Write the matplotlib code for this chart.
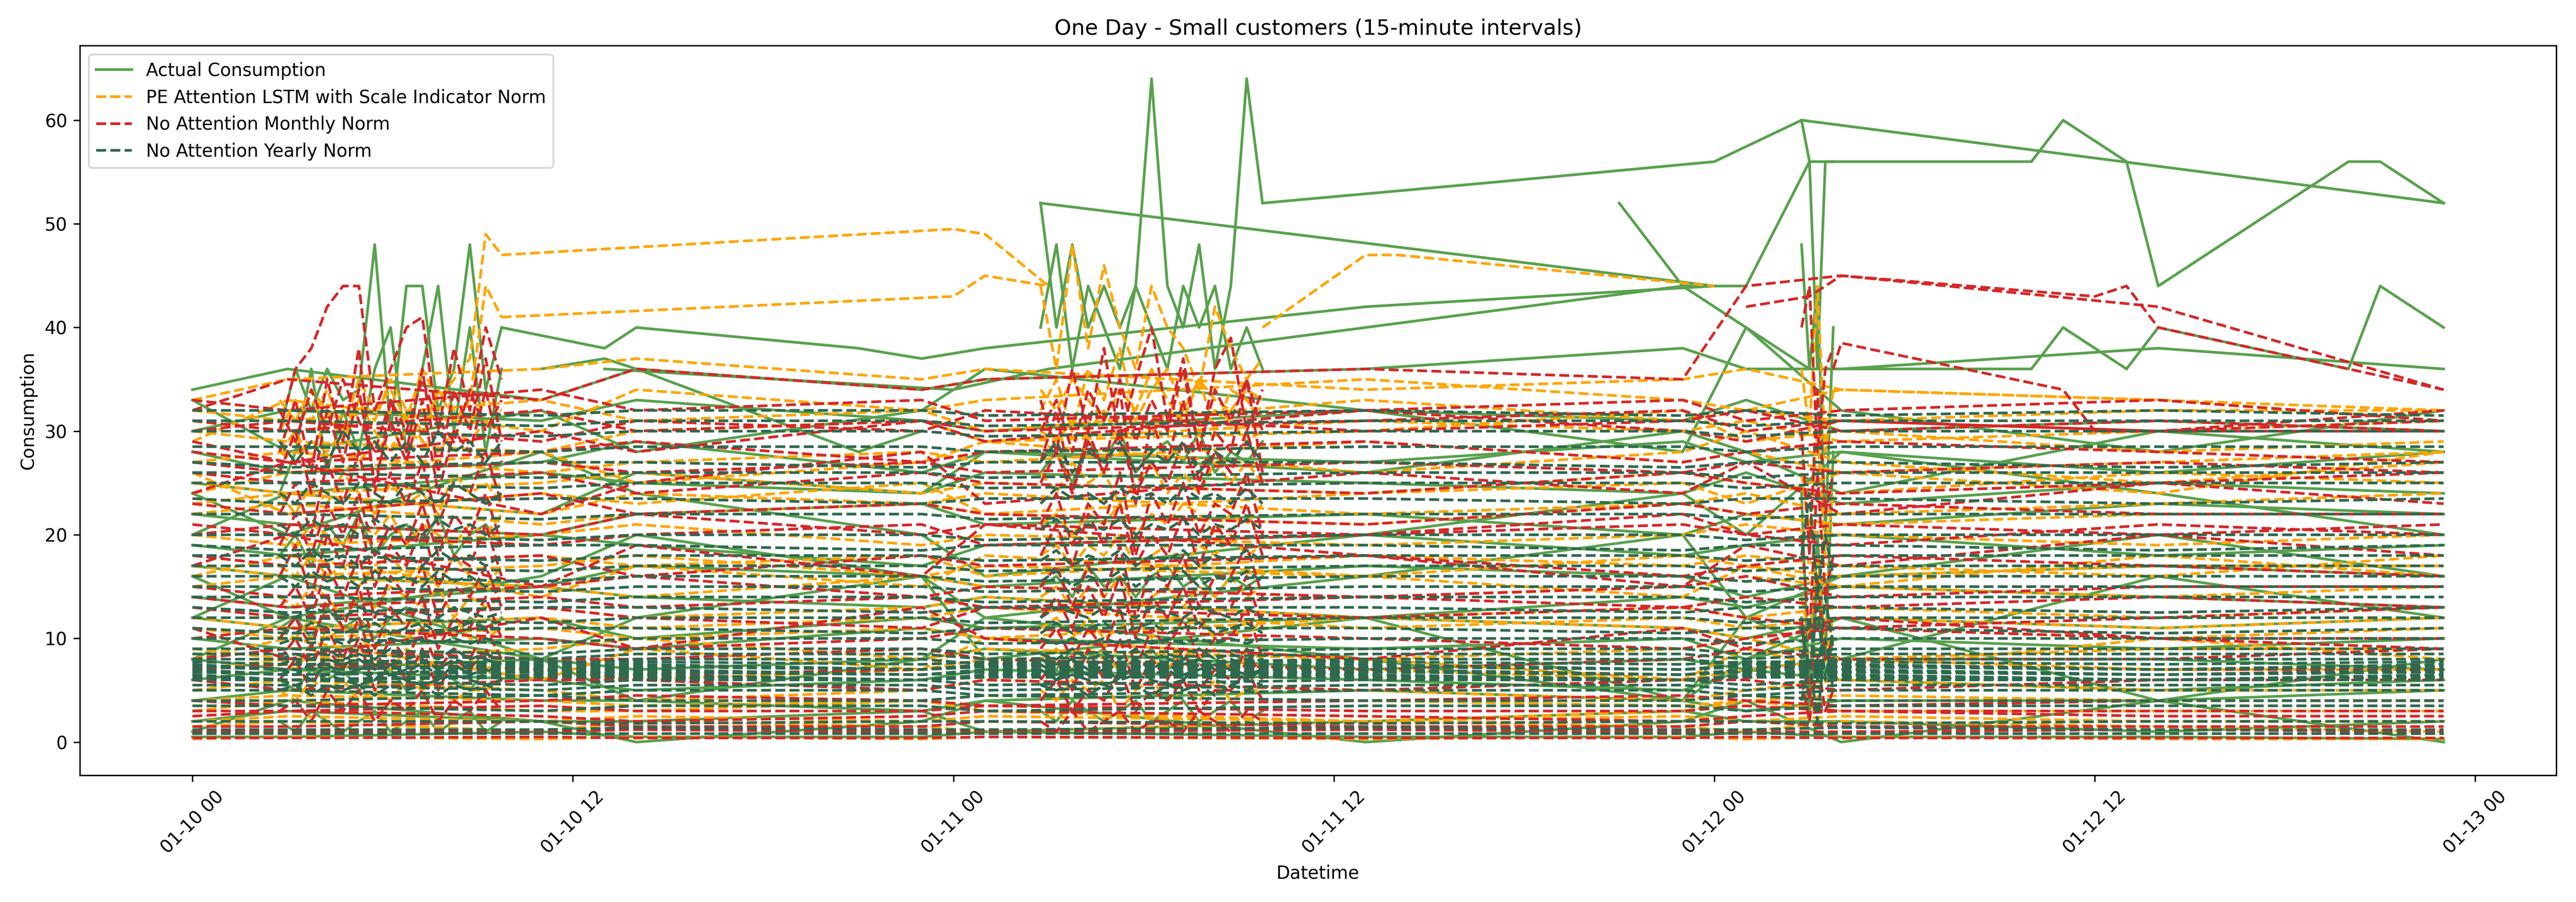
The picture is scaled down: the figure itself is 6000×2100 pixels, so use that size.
import matplotlib
matplotlib.use('Agg')
import matplotlib.pyplot as plt
import matplotlib.dates as mdates
import numpy as np
import pandas as pd

# hours after 01-10 00:00 at which the sparse readings sit
FLAT_H = [0, 3, 11, 14, 23, 25, 37, 47, 49, 52, 62, 71]
# dense windows (morning of each day)
D1_H = [2.75, 3.25, 3.75, 4.25, 4.75, 5.25, 5.75, 6.25, 6.75, 7.25, 7.75, 8.25, 8.75, 9.25, 9.75]
D2_H = [26.75, 27.25, 27.75, 28.25, 28.75, 29.25, 29.75, 30.25, 30.75, 31.25, 31.75, 32.25, 32.75, 33.25, 33.75]
D3_H = [50.75, 51.0, 51.25, 51.5, 51.75]

# ---- Actual Consumption ----
actual_flat = [
    [30, 32, 31, 33, 31, 30, 32, 31, 33, 30, 31, 30],
    [28, 26, 27, 29, 26, 28, 27, 29, 27, 28, 26, 28],
    [25, 24, 26, 25, 24, 26, 25, 24, 26, 23, 25, 24],
    [22, 21, 20, 22, 23, 21, 22, 20, 22, 21, 23, 22],
    [19, 18, 20, 19, 17, 19, 20, 18, 19, 20, 18, 19],
    [17, 16, 15, 17, 16, 15, 17, 16, 14, 16, 17, 16],
    [14, 13, 15, 14, 13, 14, 12, 14, 13, 15, 14, 13],
    [12, 11, 12, 10, 12, 11, 12, 11, 10, 12, 11, 12],
    [10, 9, 10, 9, 11, 10, 9, 10, 8, 10, 9, 10],
    [8, 7, 8, 7, 8, 9, 7, 8, 7, 8, 8, 7],
    [6, 7, 6, 5, 6, 7, 6, 5, 7, 6, 5, 6],
    [4, 5, 4, 4, 3, 4, 5, 4, 3, 4, 4, 5],
    [2, 3, 2, 2, 3, 1, 2, 3, 2, 2, 1, 2],
    [0.5, 0.5, 1, 0.5, 0.5, 1, 0.5, 0.5, 1, 0.5, 0.5, 0.3],
    [34, 36, 33, 36, 34, 35, 36, 38, 36, 36, 38, 36],
    [20, 24, 22, 26, 24, 28, 26, 30, 28, 24, 30, 28],
    [16, 12, 16, 20, 16, 12, 16, 20, 12, 16, 20, 16],
    [8, 12, 8, 4, 8, 12, 8, 4, 8, 12, 4, 8],
    [24, 20, 28, 24, 20, 16, 20, 24, 20, 28, 24, 20],
    [12, 16, 8, 12, 16, 8, 12, 4, 12, 8, 16, 12],
    [1, 4, 2, 0, 2, 4, 0, 2, 4, 0, 4, 0],
    [33, 28, 32, 28, 32, 36, 32, 28, 40, 32, 28, 32],
]
actual_day1 = [
    [30, 36, 32, 36, 33, 34, 48, 30, 44, 44, 32, 36, 48, 34, 40],
    [24, 28, 36, 26, 32, 28, 36, 40, 28, 36, 44, 30, 40, 28, 36],
    [18, 20, 17, 21, 19, 22, 18, 20, 21, 19, 22, 18, 20, 21, 19],
    [11, 12, 10, 13, 11, 12, 10, 12, 13, 11, 12, 10, 12, 11, 12],
    [6, 5, 7, 6, 7, 5, 6, 7, 5, 6, 7, 6, 5, 7, 6],
    [2, 1, 3, 2, 1, 2, 3, 1, 2, 3, 1, 2, 3, 1, 2],
]
actual_day2 = [
    [52, 40, 48, 40, 44, 40, 44, 64, 44, 40, 48, 36, 44, 64, 52],
    [40, 48, 36, 44, 40, 36, 44, 40, 36, 44, 40, 44, 36, 40, 36],
    [26, 28, 25, 29, 27, 30, 26, 28, 29, 27, 30, 26, 28, 27, 29],
    [15, 16, 14, 17, 15, 16, 14, 16, 17, 15, 16, 14, 16, 15, 16],
    [8, 7, 9, 8, 9, 7, 8, 9, 7, 8, 9, 8, 7, 9, 8],
    [3, 2, 4, 3, 2, 3, 4, 2, 3, 4, 2, 3, 4, 2, 3],
]
actual_day3 = [
    [60, 56, 36, 56, 56],
    [48, 36, 44, 20, 40],
    [24, 4, 20, 8, 28],
    [12, 2, 16, 6, 10],
]
actual_extra_h = [
    [9.75, 13, 14, 21, 23, 25, 37, 48],
    [26.75, 48],
    [33.75, 41, 48, 50.75, 71],
    [45, 47, 49, 51, 52, 58, 59, 61, 62, 68, 69, 71],
    [47, 49, 51, 52, 58, 59, 61, 62, 68, 69, 71],
    [13, 24, 27, 37, 47],
    [11, 13, 14, 21, 23],
]
actual_extra_v = [
    [40, 38, 40, 38, 37, 38, 42, 44],
    [52, 44],
    [52, 54, 56, 60, 52],
    [52, 44, 44, 56, 56, 56, 60, 56, 44, 56, 56, 52],
    [44, 40, 36, 36, 36, 40, 36, 40, 36, 44, 40],
    [36, 34, 36, 40, 44],
    [36, 37, 36, 28, 30],
]

# ---- PE Attention LSTM with Scale Indicator Norm ----
pe_flat = [
    [32, 31, 33, 31, 32, 30, 33, 31, 32, 31, 32, 32],
    [31, 30, 32, 30, 31, 29, 31, 30, 31, 29, 30, 31],
    [30, 29, 28, 30, 31, 29, 30, 32, 29, 30, 28, 29],
    [27, 28, 26, 27, 28, 27, 29, 27, 28, 26, 27, 28],
    [25, 24, 25, 26, 24, 25, 24, 26, 25, 24, 26, 25],
    [23, 24, 22, 24, 23, 24, 22, 23, 24, 22, 23, 24],
    [22, 23, 21, 22, 23, 22, 21, 23, 22, 21, 22, 22],
    [20, 19, 20, 21, 19, 20, 19, 20, 21, 20, 19, 20],
    [18, 17, 18, 17, 18, 16, 18, 17, 18, 17, 16, 18],
    [17, 16, 17, 18, 16, 17, 16, 18, 17, 16, 17, 17],
    [15, 16, 15, 14, 16, 15, 14, 15, 16, 15, 14, 15],
    [13, 12, 13, 12, 13, 14, 12, 13, 12, 13, 12, 13],
    [12, 11, 12, 11, 12, 13, 11, 12, 11, 12, 11, 12],
    [11, 10, 11, 10, 11, 10, 12, 11, 10, 11, 10, 11],
    [9, 8, 9, 10, 8, 9, 8, 9, 10, 8, 9, 9],
    [7, 8, 7, 6, 7, 8, 7, 6, 7, 8, 7, 7],
    [5, 6, 5, 4, 5, 6, 5, 4, 5, 6, 5, 5],
    [4, 4.5, 4, 3.5, 4, 4.5, 4, 3.5, 4, 4.5, 4, 4],
    [3, 4, 3, 3, 4, 3, 2, 3, 4, 3, 3, 3],
    [2, 2.5, 2, 2.5, 2, 2.5, 2, 2.5, 2, 2.5, 2, 2],
    [1.5, 2, 1, 2, 1.5, 1, 2, 1.5, 1, 2, 1.5, 1],
    [0.3, 0.5, 0.3, 0.5, 0.3, 0.5, 0.3, 0.5, 0.3, 0.5, 0.3, 0.3],
    [33, 35, 36, 37, 35, 36, 34, 35, 36, 34, 33, 32],
    [29, 33, 30, 34, 32, 33, 35, 33, 32, 34, 33, 31],
    [24, 26, 28, 25, 27, 29, 26, 28, 30, 27, 25, 27],
    [26, 22, 24, 23, 25, 22, 24, 25, 23, 26, 24, 28],
    [16, 18, 14, 17, 15, 18, 16, 14, 17, 15, 18, 16],
    [8, 10, 6, 9, 7, 10, 8, 6, 9, 7, 10, 8],
]
pe_day1 = [
    [30, 33, 31, 34, 30, 35, 32, 34, 31, 36, 33, 35, 37, 49, 47],
    [28, 30, 27, 32, 29, 33, 30, 28, 32, 29, 34, 31, 33, 44, 41],
    [24, 22, 25, 23, 26, 24, 22, 25, 23, 24, 22, 26, 24, 25, 23],
    [17, 16, 18, 16, 17, 15, 17, 18, 16, 17, 15, 18, 16, 15, 17],
    [11, 10, 12, 10, 11, 10, 9, 11, 10, 11, 10, 12, 10, 10, 11],
    [5, 4, 6, 5, 6, 4, 5, 4, 6, 5, 6, 4, 5, 5, 6],
    [28, 27, 29, 28, 30, 27, 29, 28, 30, 29, 28, 30, 29, 31, 30],
    [20, 19, 21, 20, 19, 21, 20, 22, 19, 21, 20, 19, 21, 20, 22],
    [33, 31, 34, 32, 30, 33, 31, 35, 32, 30, 34, 32, 31, 33, 32],
    [14, 13, 15, 14, 12, 14, 13, 15, 14, 13, 15, 12, 14, 13, 14],
    [8, 7, 9, 8, 7, 9, 8, 7, 9, 8, 7, 9, 8, 7, 8],
]
pe_day2 = [
    [44, 36, 48, 38, 46, 40, 36, 44, 40, 38, 34, 42, 38, 35, 37],
    [32, 35, 30, 36, 33, 38, 31, 34, 36, 32, 35, 30, 34, 33, 31],
    [26, 24, 27, 25, 26, 23, 25, 27, 24, 26, 24, 27, 25, 27, 25],
    [18, 19, 17, 19, 18, 20, 17, 18, 19, 17, 19, 18, 20, 18, 19],
    [11, 12, 10, 12, 10, 11, 12, 10, 12, 11, 12, 10, 11, 10, 12],
    [5, 4, 6, 5, 6, 3, 5, 6, 4, 5, 4, 6, 4, 5, 5],
    [30, 29, 31, 30, 32, 29, 31, 30, 32, 31, 30, 32, 31, 29, 30],
    [21, 22, 20, 22, 21, 23, 20, 22, 21, 23, 22, 20, 22, 21, 23],
    [34, 32, 35, 33, 31, 34, 32, 36, 33, 31, 35, 33, 32, 34, 33],
    [14, 15, 13, 15, 14, 16, 13, 14, 15, 13, 15, 14, 16, 14, 15],
    [8, 9, 7, 9, 8, 7, 9, 8, 7, 9, 8, 9, 7, 8, 9],
]
pe_day3 = [
    [36, 30, 44, 28, 34],
    [26, 20, 30, 18, 24],
    [14, 10, 18, 8, 12],
]
pe_extra_h = [
    [9.75, 24, 25, 27],
    [9.75, 24, 25, 27],
    [33.75, 37, 38, 48],
]
pe_extra_v = [
    [47, 49.5, 49, 44],
    [41, 43, 45, 44],
    [40, 47, 47, 44],
]

# ---- No Attention Monthly Norm ----
monthly_flat = [
    [33, 32, 34, 32, 33, 31, 32, 33, 31, 32, 33, 31],
    [31, 30, 32, 30, 31, 30, 31, 32, 30, 31, 30, 31],
    [30, 31, 29, 31, 30, 32, 30, 31, 32, 30, 31, 30],
    [28, 27, 28, 29, 27, 28, 29, 27, 28, 29, 28, 27],
    [27, 26, 27, 26, 27, 26, 27, 26, 27, 26, 27, 26],
    [26, 25, 26, 24, 26, 25, 24, 26, 25, 24, 25, 26],
    [23, 22, 24, 22, 23, 22, 21, 23, 22, 23, 22, 22],
    [21, 20, 19, 20, 21, 19, 20, 21, 20, 19, 21, 20],
    [20, 21, 20, 22, 20, 21, 20, 22, 20, 21, 20, 21],
    [18, 17, 18, 16, 18, 17, 18, 16, 17, 18, 17, 16],
    [15, 14, 15, 16, 14, 15, 14, 15, 16, 14, 15, 15],
    [14, 13, 14, 13, 14, 13, 14, 13, 14, 13, 14, 13],
    [13, 12, 13, 12, 11, 13, 12, 13, 12, 11, 12, 13],
    [10, 11, 10, 9, 10, 11, 10, 9, 10, 11, 10, 10],
    [8, 9, 8, 8, 9, 8, 7, 8, 9, 8, 8, 9],
    [7, 7.5, 7, 6.5, 7, 7.5, 7, 6.5, 7, 7.5, 7, 7],
    [6, 5, 6, 6, 5, 6, 5, 6, 6, 5, 6, 6],
    [4, 3.5, 4, 4.5, 4, 3.5, 4, 4.5, 4, 3.5, 4, 4],
    [3, 3, 3.5, 3, 3, 3.5, 3, 3, 3.5, 3, 3, 3],
    [2.5, 3, 2.5, 2, 2.5, 3, 2.5, 2, 2.5, 3, 2.5, 2.5],
    [1.5, 1.5, 2, 1.5, 1.5, 2, 1.5, 1.5, 2, 1.5, 1.5, 1.5],
    [1, 1, 1, 1.2, 1, 1, 1.2, 1, 1, 1, 1.2, 1],
    [0.4, 0.4, 0.5, 0.4, 0.4, 0.5, 0.4, 0.4, 0.5, 0.4, 0.4, 0.4],
    [32, 35, 33, 36, 34, 35, 36, 35, 44, 45, 42, 34],
    [29, 27, 30, 28, 31, 29, 32, 30, 29, 31, 30, 32],
    [24, 27, 22, 25, 28, 23, 26, 24, 27, 22, 25, 23],
    [17, 20, 15, 19, 16, 21, 18, 15, 19, 17, 20, 18],
    [11, 8, 12, 9, 13, 10, 8, 11, 9, 12, 10, 9],
]
monthly_day1 = [
    [30, 36, 38, 42, 44, 44, 32, 36, 40, 41, 30, 38, 32, 40, 35],
    [28, 33, 26, 35, 29, 38, 24, 33, 28, 36, 26, 34, 30, 37, 29],
    [22, 25, 20, 27, 23, 28, 21, 26, 23, 27, 21, 25, 24, 28, 23],
    [16, 19, 14, 20, 17, 22, 15, 19, 17, 21, 15, 18, 17, 21, 16],
    [10, 12, 9, 14, 11, 15, 9, 13, 11, 14, 9, 12, 11, 14, 10],
    [6, 8, 5, 9, 7, 10, 5, 8, 6, 9, 5, 8, 7, 9, 6],
    [3, 4, 2, 5, 3, 5, 2, 4, 3, 5, 2, 4, 3, 5, 3],
    [26, 30, 24, 32, 27, 34, 25, 31, 27, 33, 24, 30, 28, 34, 27],
    [13, 15, 12, 17, 14, 18, 12, 16, 14, 17, 12, 15, 14, 17, 13],
    [32, 29, 34, 30, 35, 31, 28, 33, 30, 35, 31, 29, 34, 30, 33],
    [19, 22, 18, 23, 20, 24, 18, 21, 19, 23, 18, 22, 20, 24, 19],
    [8, 10, 7, 11, 8, 12, 7, 10, 8, 11, 7, 9, 8, 11, 8],
]
monthly_day2 = [
    [33, 28, 36, 30, 38, 29, 35, 40, 31, 37, 28, 36, 39, 30, 34],
    [27, 32, 24, 30, 26, 34, 23, 31, 27, 33, 25, 30, 28, 35, 26],
    [21, 24, 19, 23, 21, 26, 18, 24, 21, 25, 20, 23, 22, 26, 20],
    [15, 17, 13, 17, 14, 19, 12, 17, 15, 18, 13, 16, 16, 19, 14],
    [9, 11, 8, 11, 9, 13, 7, 11, 9, 12, 8, 10, 10, 13, 8],
    [4, 6, 3, 5, 4, 7, 3, 5, 4, 6, 3, 5, 5, 7, 4],
    [2, 1, 3, 1, 2, 3, 1, 2, 2, 1, 3, 2, 1, 3, 2],
    [30, 33, 28, 34, 31, 35, 29, 33, 30, 36, 28, 34, 31, 35, 30],
    [12, 14, 11, 15, 12, 16, 10, 14, 12, 15, 11, 13, 13, 16, 11],
    [25, 28, 24, 29, 26, 30, 24, 27, 25, 29, 24, 28, 26, 30, 25],
    [18, 21, 17, 22, 19, 23, 17, 20, 18, 22, 17, 21, 19, 23, 18],
    [6, 8, 5, 9, 6, 10, 5, 8, 6, 9, 5, 7, 6, 9, 6],
]
monthly_day3 = [
    [40, 44, 28, 36, 38],
    [30, 18, 34, 22, 26],
    [20, 10, 26, 14, 18],
    [12, 4, 16, 8, 10],
    [6, 2, 8, 3, 5],
]
monthly_extra_h = [
    [49, 51, 52, 60, 61, 62, 71],
    [51.75, 52, 59, 60, 71],
]
monthly_extra_v = [
    [42, 43, 45, 43, 44, 40, 34],
    [36, 38.5, 34, 30, 30],
]

# ---- No Attention Yearly Norm ----
yearly_flat = [
    [32, 32, 31.5, 32, 32, 31.5, 32, 31.5, 32, 31.5, 32, 31.5],
    [31, 31, 30.5, 31, 31, 30.5, 31, 31, 30.5, 31, 31, 31],
    [30, 30, 29.5, 30, 30, 29.5, 30, 30, 29.5, 30, 30, 30],
    [28.5, 28.5, 28, 28.5, 28.5, 28, 28.5, 28.5, 28, 28.5, 28.5, 28.5],
    [27, 26.5, 27, 27, 26.5, 27, 27, 26.5, 27, 27, 26.5, 27],
    [26, 26, 25.5, 26, 26, 25.5, 26, 26, 25.5, 26, 26, 26],
    [25, 25, 24.5, 25, 25, 24.5, 25, 25, 24.5, 25, 25, 25],
    [23.5, 23, 23.5, 23.5, 23, 23.5, 23.5, 23, 23.5, 23.5, 23, 23.5],
    [22, 22, 21.5, 22, 22, 21.5, 22, 22, 21.5, 22, 22, 22],
    [20, 20, 19.5, 20, 20, 19.5, 20, 20, 19.5, 20, 20, 20],
    [19, 18.5, 19, 19, 18.5, 19, 19, 18.5, 19, 19, 18.5, 19],
    [18, 18, 17.5, 18, 18, 17.5, 18, 18, 17.5, 18, 18, 18],
    [17, 17, 16.5, 17, 17, 16.5, 17, 17, 16.5, 17, 17, 17],
    [16, 16, 15.5, 16, 16, 15.5, 16, 16, 15.5, 16, 16, 16],
    [15, 15, 14.5, 15, 15, 14.5, 15, 15, 14.5, 15, 15, 15],
    [14, 14, 13.5, 14, 14, 13.5, 14, 14, 13.5, 14, 14, 14],
    [13, 12.5, 13, 13, 12.5, 13, 13, 12.5, 13, 13, 12.5, 13],
    [12, 12, 11.5, 12, 12, 11.5, 12, 12, 11.5, 12, 12, 12],
    [11, 10.5, 11, 11, 10.5, 11, 11, 10.5, 11, 11, 10.5, 11],
    [10, 10, 9.5, 10, 10, 9.5, 10, 10, 9.5, 10, 10, 10],
    [9, 9, 8.5, 9, 9, 8.5, 9, 9, 8.5, 9, 9, 9],
    [8.5, 8.5, 8, 8.5, 8.5, 8, 8.5, 8.5, 8, 8.5, 8.5, 8.5],
    [8, 8, 7.5, 8, 8, 7.5, 8, 8, 7.5, 8, 8, 8],
    [7.75, 7.5, 7.75, 7.75, 7.5, 7.75, 7.75, 7.5, 7.75, 7.75, 7.5, 7.75],
    [7.5, 7, 7.5, 7.5, 7, 7.5, 7.5, 7, 7.5, 7.5, 7, 7.5],
    [7.25, 7, 7.25, 7.25, 7, 7.25, 7.25, 7, 7.25, 7.25, 7, 7.25],
    [7, 6.5, 7, 7, 6.5, 7, 7, 6.5, 7, 7, 6.5, 7],
    [6.75, 6.5, 6.75, 6.75, 6.5, 6.75, 6.75, 6.5, 6.75, 6.75, 6.5, 6.75],
    [6.5, 6, 6.5, 6.5, 6, 6.5, 6.5, 6, 6.5, 6.5, 6, 6.5],
    [6.25, 6, 6.25, 6.25, 6, 6.25, 6.25, 6, 6.25, 6.25, 6, 6.25],
    [6, 6, 5.5, 6, 6, 5.5, 6, 6, 5.5, 6, 6, 6],
    [5.5, 5.5, 5, 5.5, 5.5, 5, 5.5, 5.5, 5, 5.5, 5.5, 5.5],
    [5, 5, 4.5, 5, 5, 4.5, 5, 5, 4.5, 5, 5, 5],
    [4, 4, 4.5, 4, 4, 4.5, 4, 4, 4.5, 4, 4, 4],
    [3.5, 3.5, 3, 3.5, 3.5, 3, 3.5, 3.5, 3, 3.5, 3.5, 3.5],
    [2, 2, 2, 1.8, 2, 2, 1.8, 2, 2, 1.8, 2, 2],
    [1.2, 1.2, 1.2, 1.4, 1.2, 1.2, 1.4, 1.2, 1.2, 1.4, 1.2, 1.2],
    [0.8, 0.8, 0.8, 0.8, 0.8, 0.8, 0.8, 0.8, 0.8, 0.8, 0.8, 0.8],
]
yearly_day1 = [
    [7, 6.5, 7.5, 7, 6.5, 7, 7.5, 6.5, 7, 7.5, 6.5, 7, 7.5, 7, 7],
    [11, 10.5, 11.5, 11, 10.5, 11, 11.5, 10.5, 11, 11.5, 10.5, 11, 11.5, 11, 11],
    [16, 15, 16.5, 15.5, 16, 15, 16.5, 15.5, 16, 15, 16.5, 15.5, 16, 15, 16],
    [21, 20, 21.5, 20.5, 21, 20, 21.5, 20.5, 21, 20, 21.5, 20.5, 21, 20, 21],
    [8, 8.5, 8, 9, 8, 8.5, 8, 9, 8, 8.5, 8, 9, 8, 8.5, 8],
    [29, 27, 29, 27, 30, 28, 29, 27, 29, 27, 30, 28, 29, 27, 29],
    [6, 5.5, 6, 6.5, 6, 5.5, 6, 6.5, 6, 5.5, 6, 6.5, 6, 5.5, 6],
    [12.5, 12, 13, 12.5, 12, 13, 12.5, 12, 13, 12.5, 12, 13, 12.5, 12, 12.5],
    [24, 23, 25, 24, 23, 25, 24, 23, 25, 24, 23, 25, 24, 23, 24],
    [9.5, 10, 9.5, 10, 9.5, 10, 9.5, 10, 9.5, 10, 9.5, 10, 9.5, 10, 9.5],
    [6.5, 7, 6, 7.5, 6.5, 7, 6, 7.5, 6.5, 7, 6, 7.5, 6.5, 7, 6.5],
    [7.5, 8, 7, 8, 7.5, 8, 7, 8, 7.5, 8, 7, 8, 7.5, 8, 7.5],
    [18, 17, 18.5, 17.5, 18, 17, 18.5, 17.5, 18, 17, 18.5, 17.5, 18, 17, 18],
    [5, 5.5, 4.5, 5.5, 5, 5.5, 4.5, 5.5, 5, 5.5, 4.5, 5.5, 5, 5.5, 5],
]
yearly_day2 = [
    [7.5, 6.5, 7, 6.5, 7.5, 7, 6.5, 7, 7.5, 6.5, 7, 7.5, 7, 6.5, 7],
    [10.5, 11.5, 10.5, 11, 11.5, 10.5, 11, 11.5, 10.5, 11, 11.5, 10.5, 11, 11.5, 10.5],
    [15.5, 16.5, 15, 16, 15.5, 16.5, 15, 16, 15.5, 16.5, 15, 16, 15.5, 16.5, 15.5],
    [20.5, 21.5, 20, 21, 20.5, 21.5, 20, 21, 20.5, 21.5, 20, 21, 20.5, 21.5, 20.5],
    [8.5, 8, 9, 8, 8.5, 8, 9, 8, 8.5, 8, 9, 8, 8.5, 8, 8.5],
    [27, 29, 26, 28, 27, 29, 26, 28, 27, 29, 26, 28, 27, 29, 27],
    [5.5, 6, 6.5, 6, 5.5, 6, 6.5, 6, 5.5, 6, 6.5, 6, 5.5, 6, 5.5],
    [12, 13, 12.5, 12, 13, 12.5, 12, 13, 12.5, 12, 13, 12.5, 12, 13, 12],
    [23, 24.5, 23.5, 24, 23, 24.5, 23.5, 24, 23, 24.5, 23.5, 24, 23, 24.5, 23],
    [10, 9.5, 10, 9.5, 10, 9.5, 10, 9.5, 10, 9.5, 10, 9.5, 10, 9.5, 10],
    [7, 6, 7.5, 6.5, 7, 6, 7.5, 6.5, 7, 6, 7.5, 6.5, 7, 6, 7],
    [8, 7.5, 8, 7, 8, 7.5, 8, 7, 8, 7.5, 8, 7, 8, 7.5, 8],
    [17.5, 18.5, 17, 18, 17.5, 18.5, 17, 18, 17.5, 18.5, 17, 18, 17.5, 18.5, 17.5],
    [5.5, 5, 5.5, 4.5, 5.5, 5, 5.5, 4.5, 5.5, 5, 5.5, 4.5, 5.5, 5, 5.5],
]
yearly_day3 = [
    [8, 12, 6, 14, 9],
    [18, 24, 14, 20, 16],
    [4, 8, 2, 10, 5],
    [11, 7, 13, 6, 11],
]

BASE = pd.Timestamp('2024-01-10 00:00')


def to_dt(hours):
    return BASE + pd.to_timedelta(np.asarray(hours, dtype=float), unit='h')


def draw(ax, label, color, ls, flat, d1, d2, d3, extra_h=(), extra_v=()):
    pieces = [(FLAT_H, v) for v in flat]
    pieces += [(D1_H, v) for v in d1]
    pieces += [(D2_H, v) for v in d2]
    pieces += [(D3_H, v) for v in d3]
    pieces += list(zip(extra_h, extra_v))
    for i, (h, v) in enumerate(pieces):
        ax.plot(to_dt(h), v, color=color, linestyle=ls, linewidth=1.5,
                label=label if i == 0 else None)


fig, ax = plt.subplots(figsize=(20, 7), dpi=300)
plt.subplots_adjust(left=0.031, right=0.9923, top=0.9495, bottom=0.1405)

draw(ax, 'Actual Consumption', '#58a14d', '-', actual_flat, actual_day1,
     actual_day2, actual_day3, actual_extra_h, actual_extra_v)
draw(ax, 'PE Attention LSTM with Scale Indicator Norm', 'orange', '--', pe_flat,
     pe_day1, pe_day2, pe_day3, pe_extra_h, pe_extra_v)
draw(ax, 'No Attention Monthly Norm', '#d62728', '--', monthly_flat, monthly_day1,
     monthly_day2, monthly_day3, monthly_extra_h, monthly_extra_v)
draw(ax, 'No Attention Yearly Norm', '#2e694e', '--', yearly_flat, yearly_day1,
     yearly_day2, yearly_day3)

ax.xaxis.set_major_locator(mdates.HourLocator(byhour=[0, 12]))
ax.xaxis.set_major_formatter(mdates.DateFormatter('%m-%d %H'))
plt.xticks(rotation=45)
ax.set_title('One Day - Small customers (15-minute intervals)')
ax.set_xlabel('Datetime')
ax.set_ylabel('Consumption')
ax.legend(loc='upper left')

fig.savefig('out.png', dpi=300)
